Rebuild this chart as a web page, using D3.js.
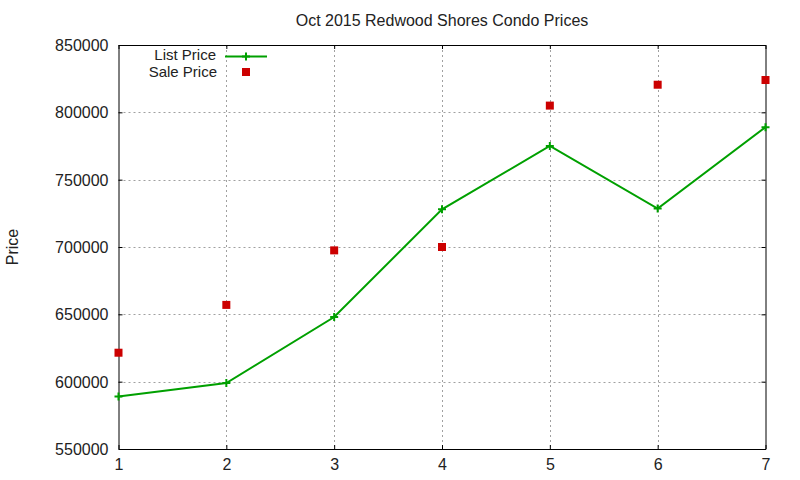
<!DOCTYPE html>
<html>
<head>
<meta charset="utf-8">
<script src="https://cdn.jsdelivr.net/npm/d3@7"></script>
<style>
  body { margin: 0; background: #fff; }
  text { font-family: "Liberation Sans", Arial, sans-serif; fill: #222; }
</style>
</head>
<body>
<div id="container"></div>
<script>
const w = 800;
const h = 480;
const m = { top: 45, right: 34.5, bottom: 31, left: 118.5 };

const months = [1, 2, 3, 4, 5, 6, 7];
const listPrice = [589000, 599000, 648000, 728000, 775000, 728500, 789000];
const salePrice = [621500, 657000, 697500, 700000, 805000, 820500, 824000];
const yTicks = [550000, 600000, 650000, 700000, 750000, 800000, 850000];

const green = '#00a000';
const red = '#cc0000';

const svg = d3.select('#container')
  .append('svg')
  .attr('width', w)
  .attr('height', h)
  .attr('viewBox', [0, 0, w, h]);

const x = d3.scaleLinear()
  .domain([1, 7])
  .range([m.left, w - m.right]);

const y = d3.scaleLinear()
  .domain([550000, 850000])
  .range([h - m.bottom, m.top]);

// grid
const grid = svg.append('g')
  .attr('stroke', '#a0a0a0')
  .attr('stroke-dasharray', '2,3')
  .attr('stroke-width', 1);

grid.selectAll('.gx')
  .data(months.slice(1, -1))
  .enter()
  .append('line')
  .attr('x1', d => Math.round(x(d)) + 0.5)
  .attr('x2', d => Math.round(x(d)) + 0.5)
  .attr('y1', m.top)
  .attr('y2', h - m.bottom);

grid.selectAll('.gy')
  .data(yTicks.slice(1, -1))
  .enter()
  .append('line')
  .attr('x1', m.left)
  .attr('x2', w - m.right)
  .attr('y1', d => Math.round(y(d)) + 0.5)
  .attr('y2', d => Math.round(y(d)) + 0.5);

// axes, ticks inward and mirrored
const xAxis = d3.axisBottom(x).tickValues(months).tickSizeInner(-4).tickSizeOuter(0).tickPadding(10).tickFormat(d3.format('d'));
const yAxis = d3.axisLeft(y).tickValues(yTicks).tickSizeInner(-4).tickSizeOuter(0).tickPadding(10).tickFormat(d3.format('d'));

const gx = svg.append('g')
  .attr('transform', 'translate(0,' + (h - m.bottom) + ')')
  .call(xAxis);

const gy = svg.append('g')
  .attr('transform', 'translate(' + m.left + ',0)')
  .call(yAxis);

svg.append('g')
  .attr('transform', 'translate(0,' + m.top + ')')
  .call(d3.axisTop(x).tickValues(months).tickSizeInner(-4).tickSizeOuter(0).tickFormat(''));

svg.append('g')
  .attr('transform', 'translate(' + (w - m.right) + ',0)')
  .call(d3.axisRight(y).tickValues(yTicks).tickSizeInner(-4).tickSizeOuter(0).tickFormat(''));

svg.selectAll('.domain, .tick line')
  .attr('stroke', '#000')
  .attr('stroke-width', 1);

gx.selectAll('text').style('font-size', '16px').attr('fill', '#222');
gy.selectAll('text').style('font-size', '16px').attr('fill', '#222').attr('dy', '0.35em');

// title
svg.append('text')
  .attr('x', (m.left + w - m.right) / 2)
  .attr('y', 26)
  .attr('text-anchor', 'middle')
  .style('font-size', '16px')
  .text('Oct 2015 Redwood Shores Condo Prices');

svg.append('text')
  .attr('transform', 'rotate(-90)')
  .attr('x', -247)
  .attr('y', 18)
  .attr('text-anchor', 'middle')
  .style('font-size', '16px')
  .text('Price');

// list price line
const line = d3.line()
  .x((d, i) => x(months[i]))
  .y(d => y(d));

svg.append('path')
  .datum(listPrice)
  .attr('fill', 'none')
  .attr('stroke', green)
  .attr('stroke-width', 2)
  .attr('d', line);

const plus = (sel, s) => sel
  .attr('stroke', green)
  .attr('stroke-width', 2)
  .attr('fill', 'none')
  .attr('d', 'M' + -s + ',0H' + s + 'M0,' + -s + 'V' + s);

svg.selectAll('.lp')
  .data(listPrice)
  .enter()
  .append('path')
  .attr('transform', (d, i) => 'translate(' + x(months[i]) + ',' + y(d) + ')')
  .call(plus, 4);

svg.selectAll('.sp')
  .data(salePrice)
  .enter()
  .append('rect')
  .attr('x', (d, i) => x(months[i]) - 4)
  .attr('y', d => y(d) - 4)
  .attr('width', 8)
  .attr('height', 8)
  .attr('fill', red);

// legend
const lg = svg.append('g');

lg.append('text')
  .attr('x', 216)
  .attr('y', 55)
  .attr('dy', '0.35em')
  .attr('text-anchor', 'end')
  .style('font-size', '15px')
  .text('List Price');

lg.append('line')
  .attr('x1', 225)
  .attr('x2', 267)
  .attr('y1', 56.5)
  .attr('y2', 56.5)
  .attr('stroke', green)
  .attr('stroke-width', 2);

lg.append('path')
  .attr('transform', 'translate(246,56.5)')
  .call(plus, 4);

lg.append('text')
  .attr('x', 217)
  .attr('y', 72)
  .attr('dy', '0.35em')
  .attr('text-anchor', 'end')
  .style('font-size', '15px')
  .text('Sale Price');

lg.append('rect')
  .attr('x', 242)
  .attr('y', 68)
  .attr('width', 8)
  .attr('height', 8)
  .attr('fill', red);
</script>
</body>
</html>
